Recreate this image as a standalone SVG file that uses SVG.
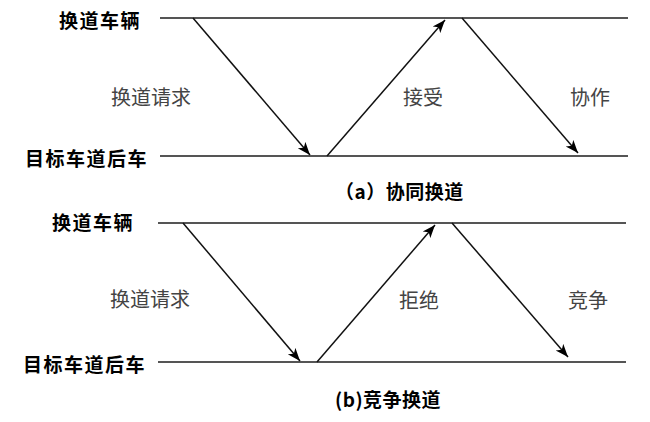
<svg xmlns="http://www.w3.org/2000/svg" width="650" height="422" viewBox="0 0 650 422">
<style>
.lane{stroke:#555;stroke-width:2.2;fill:none}
.msg{stroke:#111;stroke-width:1.5;fill:none;marker-end:url(#ah)}
.side{font-family:"Noto Sans CJK SC","Noto Sans CJK TC",sans-serif;font-size:19px;letter-spacing:1.5px;fill:#000;font-weight:bold;text-anchor:end;dominant-baseline:central}
.lbl{font-family:"Noto Sans CJK SC","Noto Sans CJK TC",sans-serif;font-size:20px;fill:#444;text-anchor:middle;dominant-baseline:central}
.cap{font-family:"Noto Sans CJK SC","Noto Sans CJK TC",sans-serif;font-size:19px;letter-spacing:0.5px;fill:#000;font-weight:bold;dominant-baseline:central}
</style>
<defs>
<marker id="ah" markerUnits="userSpaceOnUse" markerWidth="14" markerHeight="12" refX="13" refY="5" orient="auto" viewBox="0 0 14 10">
<path d="M0,0 L13,5 L0,10 L3.5,5 Z" fill="#000"/>
</marker>
</defs>
<rect width="650" height="422" fill="#fff"/>
<g id="a-changing">
<line class="lane" x1="160" y1="18" x2="628" y2="18"/>
<text class="side" x="141" y="19">换道车辆</text>
</g>
<g id="a-target">
<line class="lane" x1="160" y1="156" x2="628" y2="156"/>
<text class="side" x="148" y="157">目标车道后车</text>
</g>
<g id="a-connectors">
<line class="msg" x1="193" y1="18" x2="310" y2="155"/>
<line class="msg" x1="327" y1="156" x2="445" y2="20"/>
<line class="msg" x1="462" y1="18" x2="578" y2="153"/>
</g>
<g id="a-labels">
<text class="lbl" x="151" y="96">换道请求</text>
<text class="lbl" x="423" y="96">接受</text>
<text class="lbl" x="590" y="96">协作</text>
</g>
<text id="a-caption" class="cap" x="335" y="190">（a）协同换道</text>
<g id="b-changing">
<line class="lane" x1="158" y1="223" x2="626" y2="223"/>
<text class="side" x="134" y="221">换道车辆</text>
</g>
<g id="b-target">
<line class="lane" x1="158" y1="362" x2="626" y2="362"/>
<text class="side" x="146" y="363">目标车道后车</text>
</g>
<g id="b-connectors">
<line class="msg" x1="183" y1="223" x2="300" y2="361"/>
<line class="msg" x1="317" y1="362" x2="435" y2="225"/>
<line class="msg" x1="452" y1="223" x2="568" y2="357"/>
</g>
<g id="b-labels">
<text class="lbl" x="150" y="298">换道请求</text>
<text class="lbl" x="419" y="299">拒绝</text>
<text class="lbl" x="588" y="299">竞争</text>
</g>
<text id="b-caption" class="cap" x="335" y="398">(b)竞争换道</text>
</svg>
